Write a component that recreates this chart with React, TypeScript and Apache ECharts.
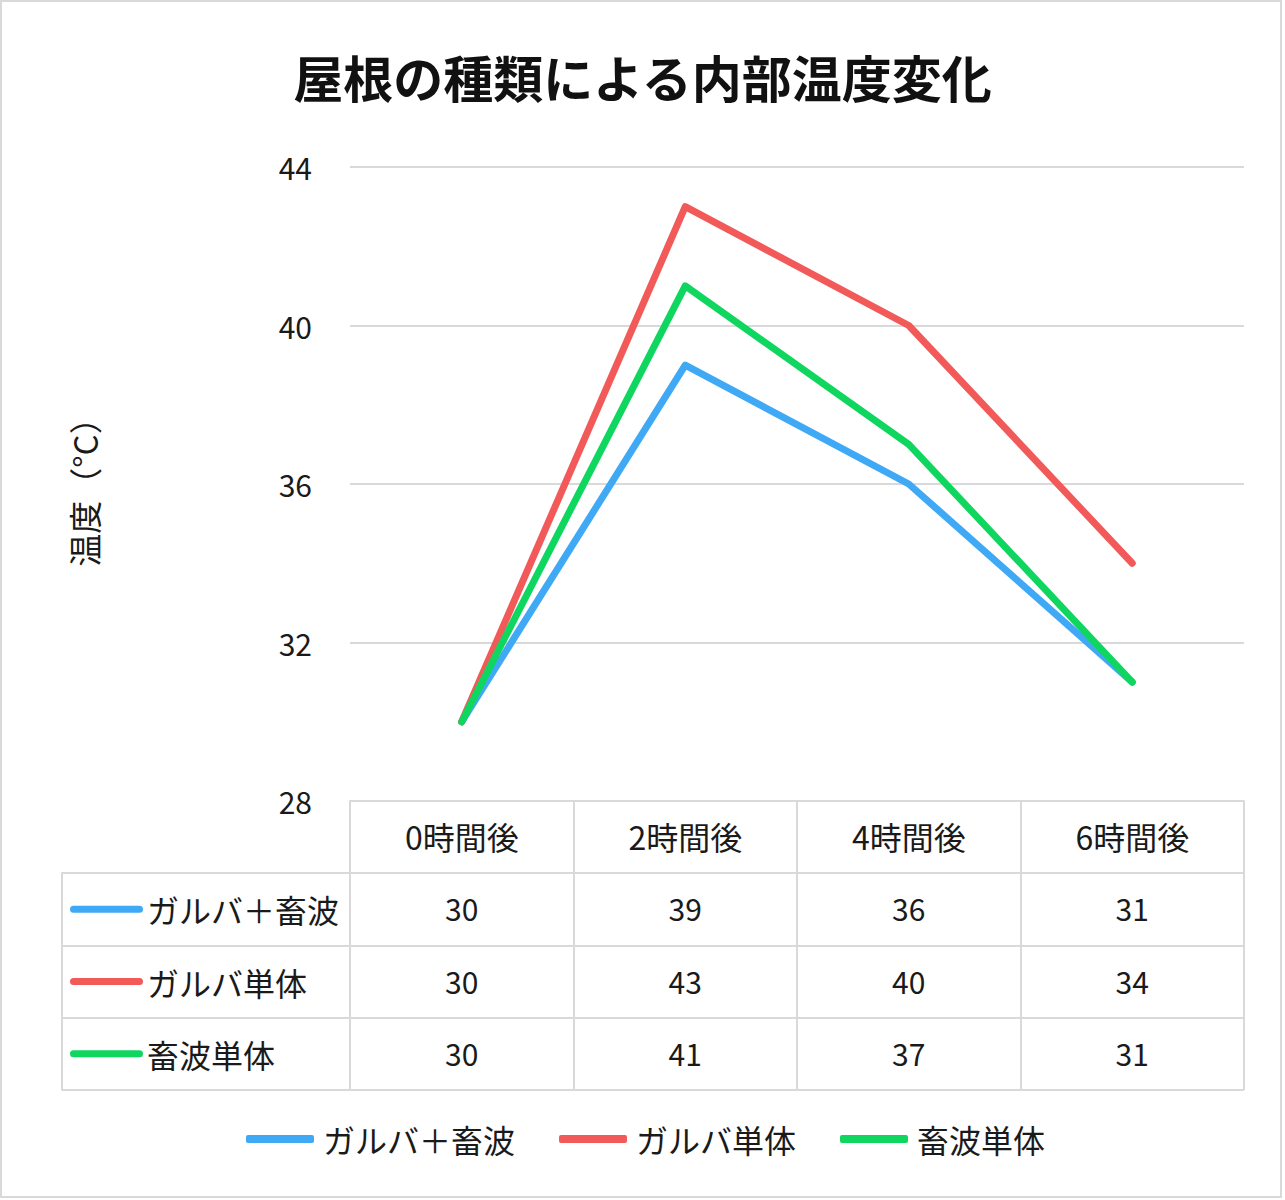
import React, { useEffect, useRef } from "react";
import * as echarts from "echarts";

const titleText = "屋根の種類による内部温度変化";
const yAxisName = "温度（°C）";
const categories = ["0時間後", "2時間後", "4時間後", "6時間後"];
const seriesNames = ["ガルバ＋畜波", "ガルバ単体", "畜波単体"];
const galvaChikuha = [30, 39, 36, 31];
const galvaOnly = [30, 43, 40, 34];
const chikuhaOnly = [30, 41, 37, 31];
const seriesValues = [galvaChikuha, galvaOnly, chikuhaOnly];
const seriesColors = ["#3FA9F5", "#F25A5A", "#0FD65E"];
const yMin = 28;
const yMax = 44;
const yInterval = 4;

const FONT = "'Noto Sans CJK JP', 'Noto Sans', sans-serif";
const GRID_COLOR = "#d9d9d9";
const TEXT_COLOR = "#1a1a1a";
const ROW_OFFSETS = [72, 145, 217];

export default function App() {
  const ref = useRef<HTMLDivElement>(null);

  useEffect(() => {
    document.body.style.margin = "0";
    if (!ref.current) return;
    const chart = echarts.init(ref.current, undefined, { renderer: "svg" });

    const rich: Record<string, any> = {
      t: { fontSize: 32, color: TEXT_COLOR, fontFamily: FONT, padding: [0, 0, 0, 4] },
    };
    seriesColors.forEach((c, i) => {
      rich["icon" + i] = { width: 73, height: 7, backgroundColor: c, borderRadius: 3.5 };
    });

    const valueAxes = seriesValues.map((vals, i) => ({
      gridIndex: 0,
      type: "category",
      data: categories,
      position: "bottom",
      offset: ROW_OFFSETS[i],
      axisLine: { show: false },
      axisTick: { show: false },
      axisLabel: {
        fontSize: 30,
        color: TEXT_COLOR,
        fontFamily: FONT,
        margin: 20,
        formatter: (_v: string, idx: number) => String(vals[idx]),
      },
    }));

    chart.setOption({
      animation: false,
      backgroundColor: "#fff",
      textStyle: { fontFamily: FONT },
      title: {
        text: titleText,
        left: "center",
        top: 46,
        textStyle: { fontSize: 50, fontWeight: "bold", color: "#111", fontFamily: FONT },
      },
      legend: {
        bottom: 40,
        left: 241,
        itemWidth: 68,
        itemHeight: 8,
        itemGap: 44,
        icon: "roundRect",
        textStyle: { fontSize: 32, color: TEXT_COLOR, fontFamily: FONT, padding: [0, 0, 0, 4] },
        data: seriesNames,
      },
      grid: [
        { left: 350, right: 41, top: 167, bottom: 399 },
        { left: 62, right: 41, top: 873, bottom: 110 },
      ],
      xAxis: [
        {
          gridIndex: 0,
          type: "category",
          data: categories,
          boundaryGap: true,
          axisLine: { show: true, lineStyle: { color: GRID_COLOR, width: 2 } },
          axisTick: { show: true, length: 289, lineStyle: { color: GRID_COLOR, width: 2 } },
          axisLabel: { fontSize: 32, color: TEXT_COLOR, fontFamily: FONT, margin: 19 },
        },
        ...valueAxes,
        { gridIndex: 1, type: "value", show: false },
      ],
      yAxis: [
        {
          gridIndex: 0,
          type: "value",
          min: yMin,
          max: yMax,
          interval: yInterval,
          name: yAxisName,
          nameLocation: "middle",
          nameRotate: 90,
          nameGap: 250,
          nameTextStyle: { fontSize: 33, color: TEXT_COLOR, fontFamily: FONT },
          axisLine: { show: false },
          axisTick: { show: false },
          axisLabel: { fontSize: 30, color: TEXT_COLOR, fontFamily: FONT, margin: 38 },
          splitLine: { show: true, lineStyle: { color: GRID_COLOR, width: 2 } },
        },
        {
          gridIndex: 1,
          type: "category",
          data: seriesNames,
          inverse: true,
          axisLine: { show: true, lineStyle: { color: GRID_COLOR, width: 2 } },
          axisTick: { show: false },
          splitLine: { show: true, lineStyle: { color: GRID_COLOR, width: 2 } },
          axisLabel: {
            inside: true,
            margin: 8,
            align: "left",
            formatter: (v: string, idx: number) => `{icon${idx}| }{t|${v}}`,
            rich,
          },
        },
      ],
      series: seriesNames.map((name, i) => ({
        name,
        type: "line",
        xAxisIndex: 0,
        yAxisIndex: 0,
        data: seriesValues[i],
        symbol: "none",
        showSymbol: false,
        color: seriesColors[i],
        lineStyle: { width: 7, color: seriesColors[i], cap: "round", join: "round" },
      })),
      graphic: [
        {
          type: "rect",
          shape: { x: 1, y: 1, width: 1280, height: 1196 },
          style: { fill: "none", stroke: GRID_COLOR, lineWidth: 2 },
          silent: true,
        },
      ],
    });

    return () => chart.dispose();
  }, []);

  return <div ref={ref} style={{ width: 1285, height: 1200 }} />;
}
